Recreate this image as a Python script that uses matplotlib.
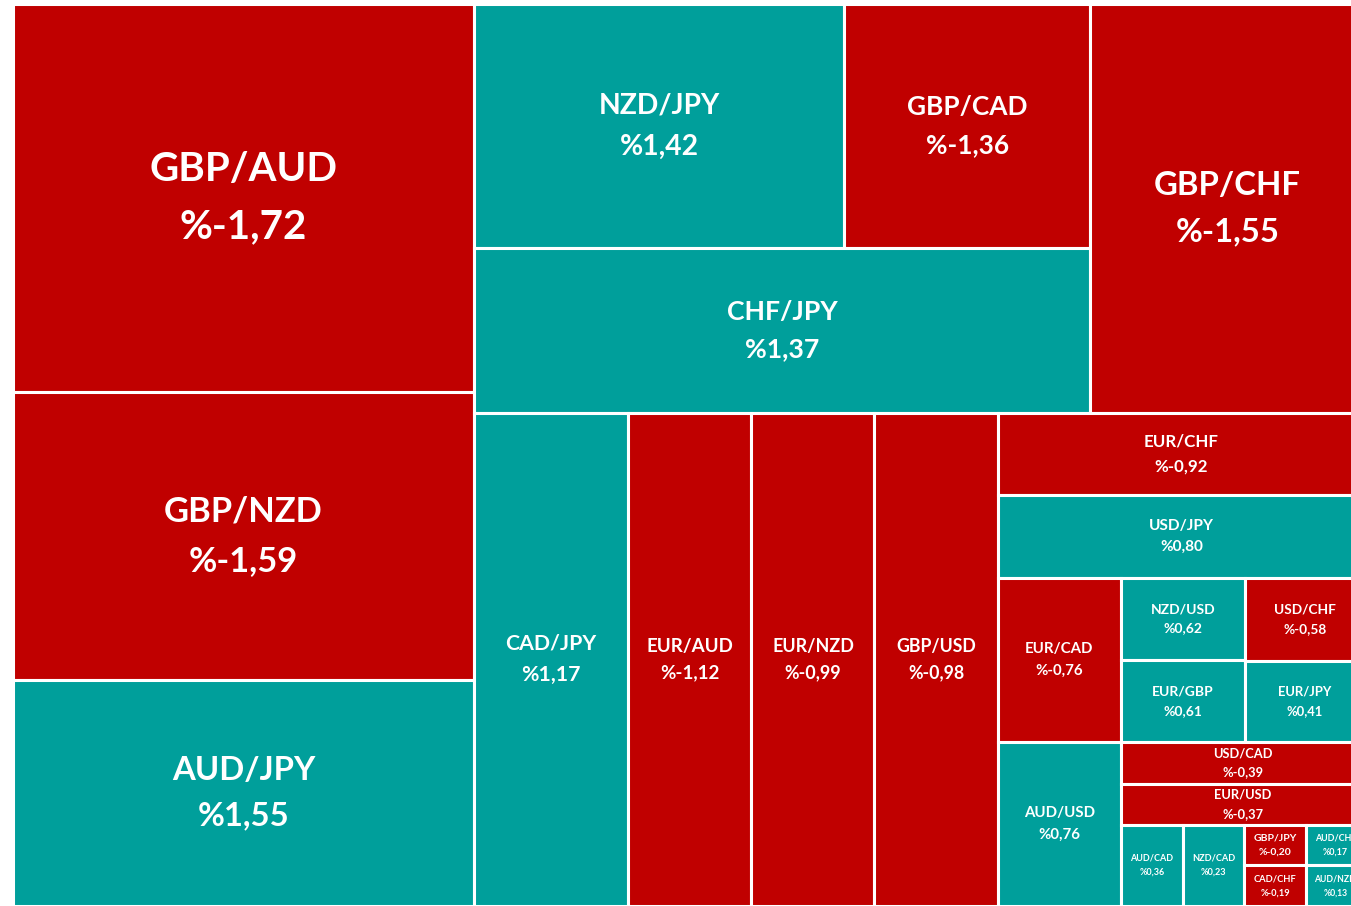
import matplotlib
matplotlib.use('Agg')
import matplotlib.pyplot as plt
from matplotlib.patches import Rectangle

plt.rcParams['font.family'] = ['Lato', 'DejaVu Sans']

# pairs, daily change (%) and the size measure behind each box
pairs = ['GBP/AUD', 'GBP/NZD', 'AUD/JPY', 'GBP/CHF', 'NZD/JPY', 'CHF/JPY', 'GBP/CAD',
         'CAD/JPY', 'EUR/AUD', 'EUR/NZD', 'GBP/USD', 'EUR/CHF', 'USD/JPY', 'EUR/CAD',
         'AUD/USD', 'NZD/USD', 'EUR/GBP', 'USD/CHF', 'EUR/JPY', 'USD/CAD', 'EUR/USD',
         'AUD/CAD', 'NZD/CAD', 'GBP/JPY', 'CAD/CHF', 'AUD/CHF', 'AUD/NZD']
change = [-1.72, -1.59, 1.55, -1.55, 1.42, 1.37, -1.36,
          1.17, -1.12, -0.99, -0.98, -0.92, 0.80, -0.76,
          0.76, 0.62, 0.61, -0.58, 0.41, -0.39, -0.37,
          0.36, 0.23, -0.20, -0.19, 0.17, 0.13]
weight = [179.1, 132.8, 104.0, 112.3, 90.3, 101.6, 60.2,
          75.7, 61.0, 60.6, 60.8, 30.2, 30.2, 20.3,
          20.2, 10.2, 10.1, 10.0, 9.8, 10.2, 10.0,
          5.0, 5.0, 2.5, 2.5, 2.4, 2.4]

w_of = dict(zip(pairs, weight))
c_of = dict(zip(pairs, change))

# nesting of the boxes: 'h' = side by side, 'v' = stacked
tree = ('h', [
    ('v', ['GBP/AUD', 'GBP/NZD', 'AUD/JPY']),
    ('v', [
        ('h', [('v', [('h', ['NZD/JPY', 'GBP/CAD']), 'CHF/JPY']), 'GBP/CHF']),
        ('h', ['CAD/JPY', 'EUR/AUD', 'EUR/NZD', 'GBP/USD',
               ('v', ['EUR/CHF', 'USD/JPY',
                      ('h', [('v', ['EUR/CAD', 'AUD/USD']),
                             ('v', [('h', [('v', ['NZD/USD', 'EUR/GBP']),
                                           ('v', ['USD/CHF', 'EUR/JPY'])]),
                                    'USD/CAD', 'EUR/USD',
                                    ('h', ['AUD/CAD', 'NZD/CAD',
                                           ('v', ['GBP/JPY', 'CAD/CHF']),
                                           ('v', ['AUD/CHF', 'AUD/NZD'])])])])])])
    ])
])


def total(node):
    if isinstance(node, str):
        return w_of[node]
    return sum(total(c) for c in node[1])


def layout(node, x, y, w, h, out):
    if isinstance(node, str):
        out.append((node, x, y, w, h))
        return
    kind, children = node
    s = total(node)
    for c in children:
        f = total(c) / s
        if kind == 'h':
            layout(c, x, y, w * f, h, out)
            x += w * f
        else:
            layout(c, x, y, w, h * f, out)
            y += h * f


W, H = 1352, 902
boxes = []
layout(tree, 0, 0, W, H, boxes)

fig = plt.figure(figsize=(13.51, 9.06), dpi=100)
ax = fig.add_axes([13 / 1351, 0, W / 1351, H / 906])
ax.set_xlim(0, W)
ax.set_ylim(H, 0)
ax.axis('off')

red = '#C00000'
teal = '#009F9B'

fig.canvas.draw()
renderer = fig.canvas.get_renderer()

for name, x, y, w, h in boxes:
    v = c_of[name]
    ax.add_patch(Rectangle((x, y), w, h, facecolor=red if v < 0 else teal,
                           edgecolor='white', linewidth=2.2))
    label = name + '\n%' + ('%.2f' % v).replace('.', ',')
    em = 14.5 + 6.26 * abs(v) ** 3
    fs = em * 0.626
    t = ax.text(x + w / 2, y + h / 2, label, ha='center', va='center',
                color='white', fontweight='bold', fontsize=fs, linespacing=1.7)
    bb = t.get_window_extent(renderer)
    scale = min(1.0, 0.7 * w / bb.width, 0.95 * h / bb.height)
    if scale < 1.0:
        t.set_fontsize(fs * scale)

fig.savefig('out.png', dpi=100)
